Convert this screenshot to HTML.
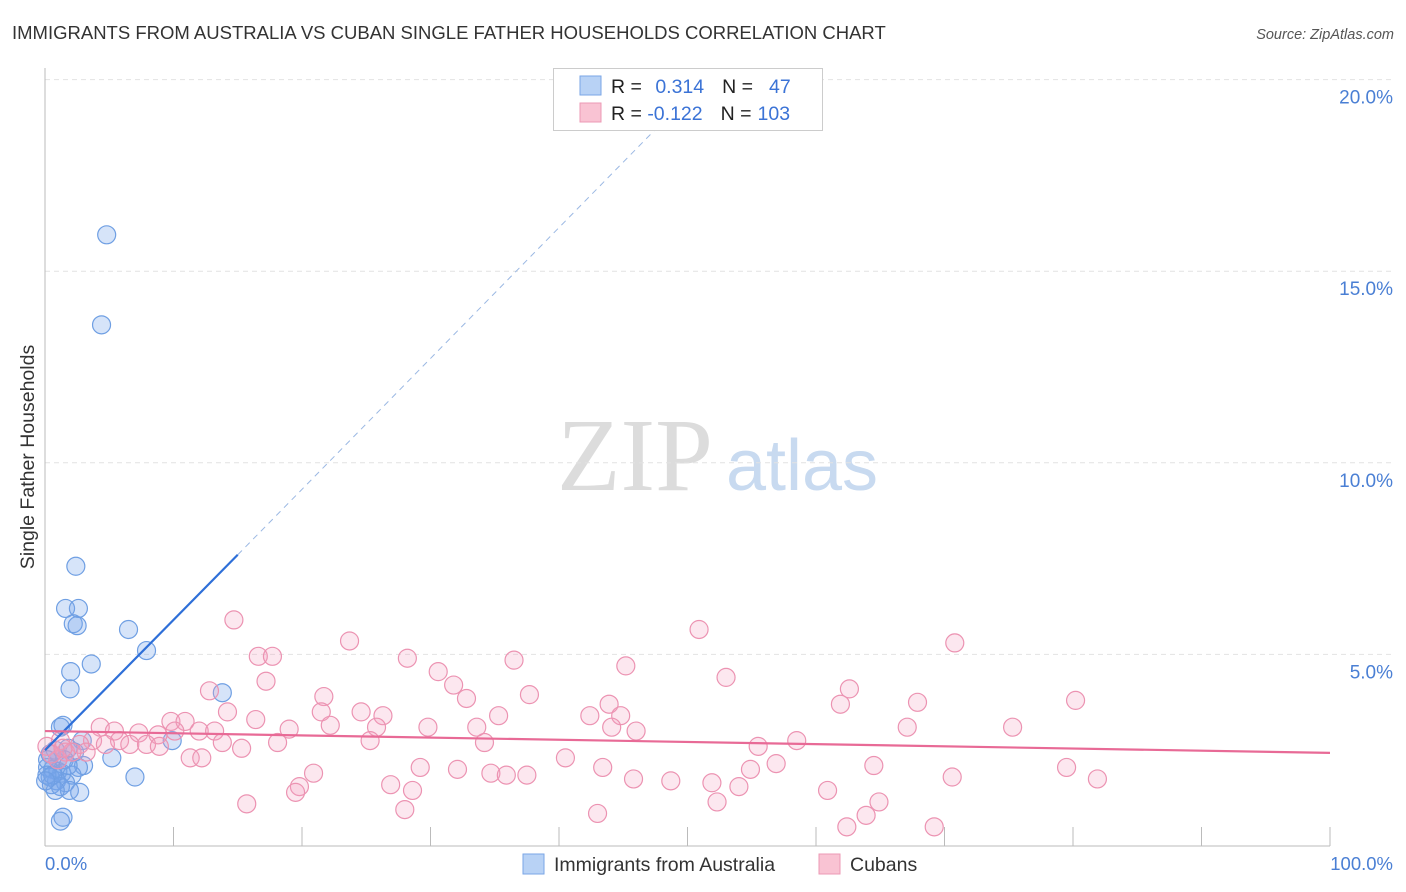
<!DOCTYPE html>
<html><head><meta charset="utf-8"><style>
body{margin:0;background:#fff;font-family:"Liberation Sans",sans-serif}
svg{display:block}
</style></head><body>
<svg id="chart" width="1406" height="892" viewBox="0 0 1406 892">
<text x="12" y="39" font-size="18.5" fill="#333">IMMIGRANTS FROM AUSTRALIA VS CUBAN SINGLE FATHER HOUSEHOLDS CORRELATION CHART</text>
<text x="1394" y="39" font-size="14.5" fill="#555" text-anchor="end" font-style="italic">Source: ZipAtlas.com</text>
<g>
<text x="635" y="490" font-family="Liberation Serif,serif" font-size="104" fill="#dcdcdc" text-anchor="middle">ZIP</text>
<text x="802" y="490" font-size="72" fill="#c8daf0" text-anchor="middle">atlas</text>
</g>
<g id="grid"></g>
<line x1="45" y1="68" x2="45" y2="846" stroke="#bbb"/>
<line x1="45" y1="846" x2="1330" y2="846" stroke="#bbb"/>
<text transform="translate(34,457) rotate(-90)" font-size="19.5" fill="#333" text-anchor="middle">Single Father Households</text>
<text x="45" y="870" font-size="18.5" fill="#4a7fd4">0.0%</text>
<text x="1393" y="870" font-size="18.5" fill="#4a7fd4" text-anchor="end">100.0%</text>
<g id="marks"></g>
<g>
<rect x="553.5" y="68.5" width="269" height="62" fill="#fff" stroke="#ccc"/>
<rect x="580" y="76" width="21" height="19" fill="#b8d2f5" stroke="#7aa6e6"/>
<rect x="580" y="103" width="21" height="19" fill="#f9c3d3" stroke="#ec9ab5"/>
<text x="611" y="93" font-size="19.5" fill="#222">R = <tspan fill="#3b73d6" dx="8">0.314</tspan><tspan dx="18" fill="#222">N =</tspan><tspan dx="16" fill="#3b73d6">47</tspan></text>
<text x="611" y="120" font-size="19.5" fill="#222">R = <tspan fill="#3b73d6">-0.122</tspan><tspan dx="18" fill="#222">N =</tspan><tspan dx="6" fill="#3b73d6">103</tspan></text>
</g>
<g>
<rect x="523" y="854" width="21" height="20" fill="#b8d2f5" stroke="#7aa6e6"/>
<text x="554" y="871" font-size="19.5" fill="#333">Immigrants from Australia</text>
<rect x="819" y="854" width="21" height="20" fill="#f9c3d3" stroke="#ec9ab5"/>
<text x="850" y="871" font-size="19.5" fill="#333">Cubans</text>
</g>
</svg>
<script>
const yTicks=[5,10,15,20];
const yTickLabels=["5.0%","10.0%","15.0%","20.0%"];
const xTicks=[10,20,30,40,50,60,70,80,90,100];
const blueX=[4.8,4.4,2.4,1.6,2.6,2.2,2.5,6.5,7.9,3.6,2.0,1.95,13.8,1.4,1.2,9.9,2.9,1.8,0.8,2.3,0.4,5.2,3.0,2.6,0.2,0.6,1.0,1.3,2.1,0.4,0.9,1.6,0.5,1.2,1.9,2.7,7.0,1.4,1.2,0.8,0.2,1.5,1.0,0.15,0.6,0.05,1.8];
const blueY=[15.95,13.6,7.3,6.2,6.2,5.8,5.75,5.65,5.1,4.75,4.55,4.1,4.0,3.15,3.1,2.75,2.75,2.55,2.5,2.45,2.4,2.3,2.1,2.05,2.05,2.0,1.95,1.9,1.85,1.8,1.7,1.65,1.6,1.55,1.45,1.4,1.8,0.75,0.65,1.45,2.25,2.25,2.25,1.85,1.85,1.7,2.1];
const pinkX=[14.7,50.9,70.8,23.7,16.6,17.7,28.2,36.5,45.2,30.6,17.2,53.0,31.8,12.8,21.7,37.7,62.6,32.8,43.9,67.9,61.9,80.2,14.2,24.6,21.5,26.3,35.3,42.4,44.8,16.4,9.8,10.9,22.2,29.8,33.6,25.8,44.1,67.1,75.3,4.3,5.4,7.3,10.1,12.0,13.2,19.0,46.0,8.8,3.7,5.8,6.6,7.9,8.9,13.8,18.1,25.3,34.2,58.5,4.7,2.7,1.2,1.6,3.2,15.3,55.5,11.3,12.2,40.5,56.9,64.5,43.4,54.9,29.2,32.1,34.7,35.9,37.5,20.9,79.5,45.8,48.7,51.9,70.6,81.9,26.9,54.0,19.8,19.5,28.6,60.9,52.3,64.9,15.7,28.0,43.0,63.9,62.4,69.2,0.15,1.0,2.1,0.5,1.4];
const pinkY=[5.9,5.65,5.3,5.35,4.95,4.95,4.9,4.85,4.7,4.55,4.3,4.4,4.2,4.05,3.9,3.95,4.1,3.85,3.7,3.75,3.7,3.8,3.5,3.5,3.5,3.4,3.4,3.4,3.4,3.3,3.25,3.25,3.15,3.1,3.1,3.1,3.1,3.1,3.1,3.1,3.0,2.95,3.0,3.0,3.0,3.05,3.0,2.9,2.75,2.75,2.65,2.65,2.6,2.7,2.7,2.75,2.7,2.75,2.65,2.65,2.75,2.45,2.45,2.55,2.6,2.3,2.3,2.3,2.15,2.1,2.05,2.0,2.05,2.0,1.9,1.85,1.85,1.9,2.05,1.75,1.7,1.65,1.8,1.75,1.6,1.55,1.55,1.4,1.45,1.45,1.15,1.15,1.1,0.95,0.85,0.8,0.5,0.5,2.6,2.25,2.45,2.4,2.55];
const blueTrend=[[0,2.5],[15,7.6],[47.5,18.7]];
const pinkTrend=[[0,3.0],[100,2.43]];
const NS='http://www.w3.org/2000/svg';
const xs=v=>45+v*12.85, ys=v=>846-v*38.32;
function mk(tag,attrs,parent){const e=document.createElementNS(NS,tag);for(const k in attrs)e.setAttribute(k,attrs[k]);parent.appendChild(e);return e;}
const grid=document.getElementById('grid'), marks=document.getElementById('marks');
yTicks.forEach((t,i)=>{
 const l=mk('line',{x1:45,x2:1393,y1:ys(t),y2:ys(t),stroke:'#e2e2e2','stroke-dasharray':'5,4'},grid);
 
 
 const tx=mk('text',{x:1393,y:ys(t)+24,'font-size':19,fill:'#4a7fd4','text-anchor':'end'},grid);
 tx.textContent=yTickLabels[i];
 
 
});
xTicks.forEach(t=>{
 const l=mk('line',{x1:xs(t),x2:xs(t),y1:827,y2:846,stroke:'#bbb'},grid);
 
 
});
blueX.forEach((v,i)=>{
 const c=mk('circle',{cx:xs(v),cy:ys(blueY[i]),r:9,fill:'rgba(120,165,235,0.3)',stroke:'#6f9fe3','stroke-width':1.2},marks);
 
 
});
pinkX.forEach((v,i)=>{
 const c=mk('circle',{cx:xs(v),cy:ys(pinkY[i]),r:9,fill:'rgba(245,160,190,0.25)',stroke:'#ec93b2','stroke-width':1.2},marks);
 
 
});
let b1=mk('line',{x1:xs(blueTrend[0][0]),y1:ys(blueTrend[0][1]),x2:xs(blueTrend[1][0]),y2:ys(blueTrend[1][1]),stroke:'#2e6fd8','stroke-width':2.2},marks);


let b2=mk('line',{x1:xs(blueTrend[1][0]),y1:ys(blueTrend[1][1]),x2:xs(blueTrend[2][0]),y2:ys(blueTrend[2][1]),stroke:'#9bb8e3','stroke-width':1,'stroke-dasharray':'6,5'},marks);


let p1=mk('line',{x1:xs(pinkTrend[0][0]),y1:ys(pinkTrend[0][1]),x2:xs(pinkTrend[1][0]),y2:ys(pinkTrend[1][1]),stroke:'#e86a96','stroke-width':2.2},marks);


</script>
</body></html>
